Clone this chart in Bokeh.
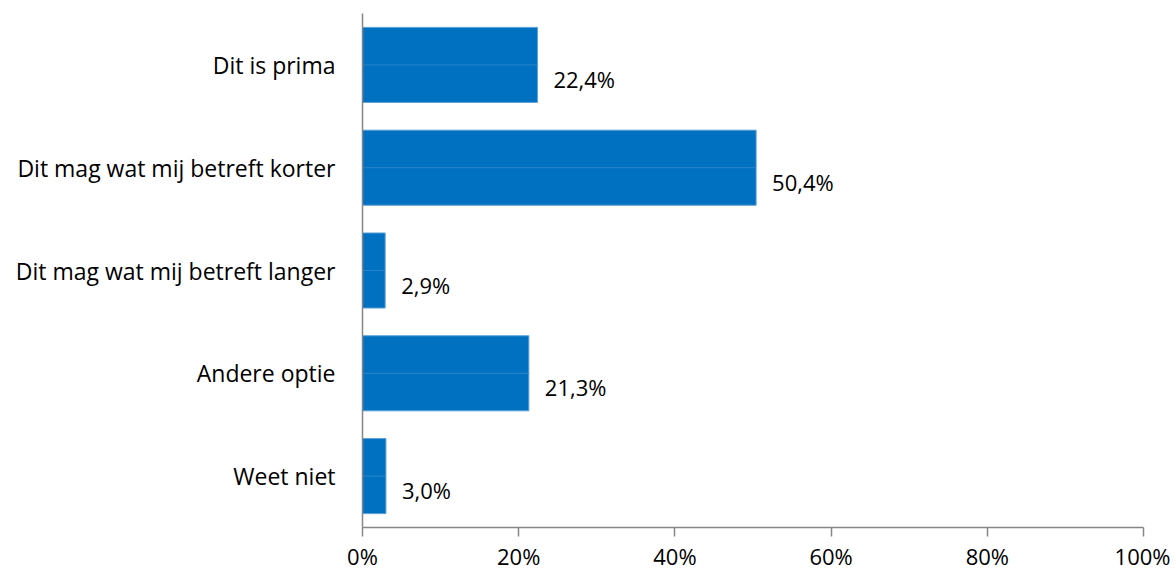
from bokeh.plotting import figure
from bokeh.models import FactorRange, Range1d, PrintfTickFormatter, FixedTicker, ColumnDataSource
from bokeh.core.properties import value
from bokeh.embed import file_html
from bokeh.resources import INLINE

categories = ["Dit is prima", "Dit mag wat mij betreft korter", "Dit mag wat mij betreft langer",
              "Andere optie", "Weet niet"]
values = [22.4, 50.4, 2.9, 21.3, 3.0]
labels = [f"{v:.1f}%".replace(".", ",") for v in values]
x_ticks = [0, 20, 40, 60, 80, 100]

FONT = "Open Sans"
FS = "23px"
BLUE = "#0070C0"

src = ColumnDataSource(dict(cat=categories, val=values, lab=labels, zero=[0] * len(values)))

p = figure(width=1170, height=573, output_backend="svg", toolbar_location=None,
           y_range=FactorRange(factors=list(reversed(categories))),
           x_range=Range1d(0, 100),
           min_border_left=362, min_border_top=13, min_border_right=27, min_border_bottom=45)
p.outline_line_color = None
p.xgrid.visible = False
p.ygrid.visible = False

p.hbar(y="cat", right="val", left=0, height=0.73, source=src,
       fill_color=BLUE, line_color="#5aa0d8", line_width=1)
p.segment(x0="zero", x1="val", y0="cat", y1="cat", source=src,
          line_color="#2a86cb", line_width=1)
p.text(x="val", y="cat", text="lab", source=src, x_offset=16, y_offset=14,
       text_align="left", text_baseline="middle",
       text_font=value(FONT), text_font_size="22px", text_color="#000000")

AX = "#868686"
xa = p.xaxis[0]
xa.ticker = FixedTicker(ticks=x_ticks)
xa.formatter = PrintfTickFormatter(format="%d%%")
xa.axis_line_color = AX
xa.axis_line_width = 1.5
xa.major_tick_line_color = AX
xa.major_tick_line_width = 1.5
xa.major_tick_in = 0
xa.major_tick_out = 9
xa.minor_tick_line_color = None
xa.major_label_standoff = 4
xa.major_label_text_font = FONT
xa.major_label_text_font_size = "22px"
xa.major_label_text_color = "#000000"

ya = p.yaxis[0]
ya.axis_line_color = AX
ya.axis_line_width = 1.5
ya.major_tick_line_color = None
ya.major_tick_in = 0
ya.major_tick_out = 0
ya.minor_tick_line_color = None
ya.major_label_standoff = 27
ya.major_label_text_font = FONT
ya.major_label_text_font_size = FS
ya.major_label_text_color = "#000000"

open("out.html", "w").write(file_html(p, INLINE))
